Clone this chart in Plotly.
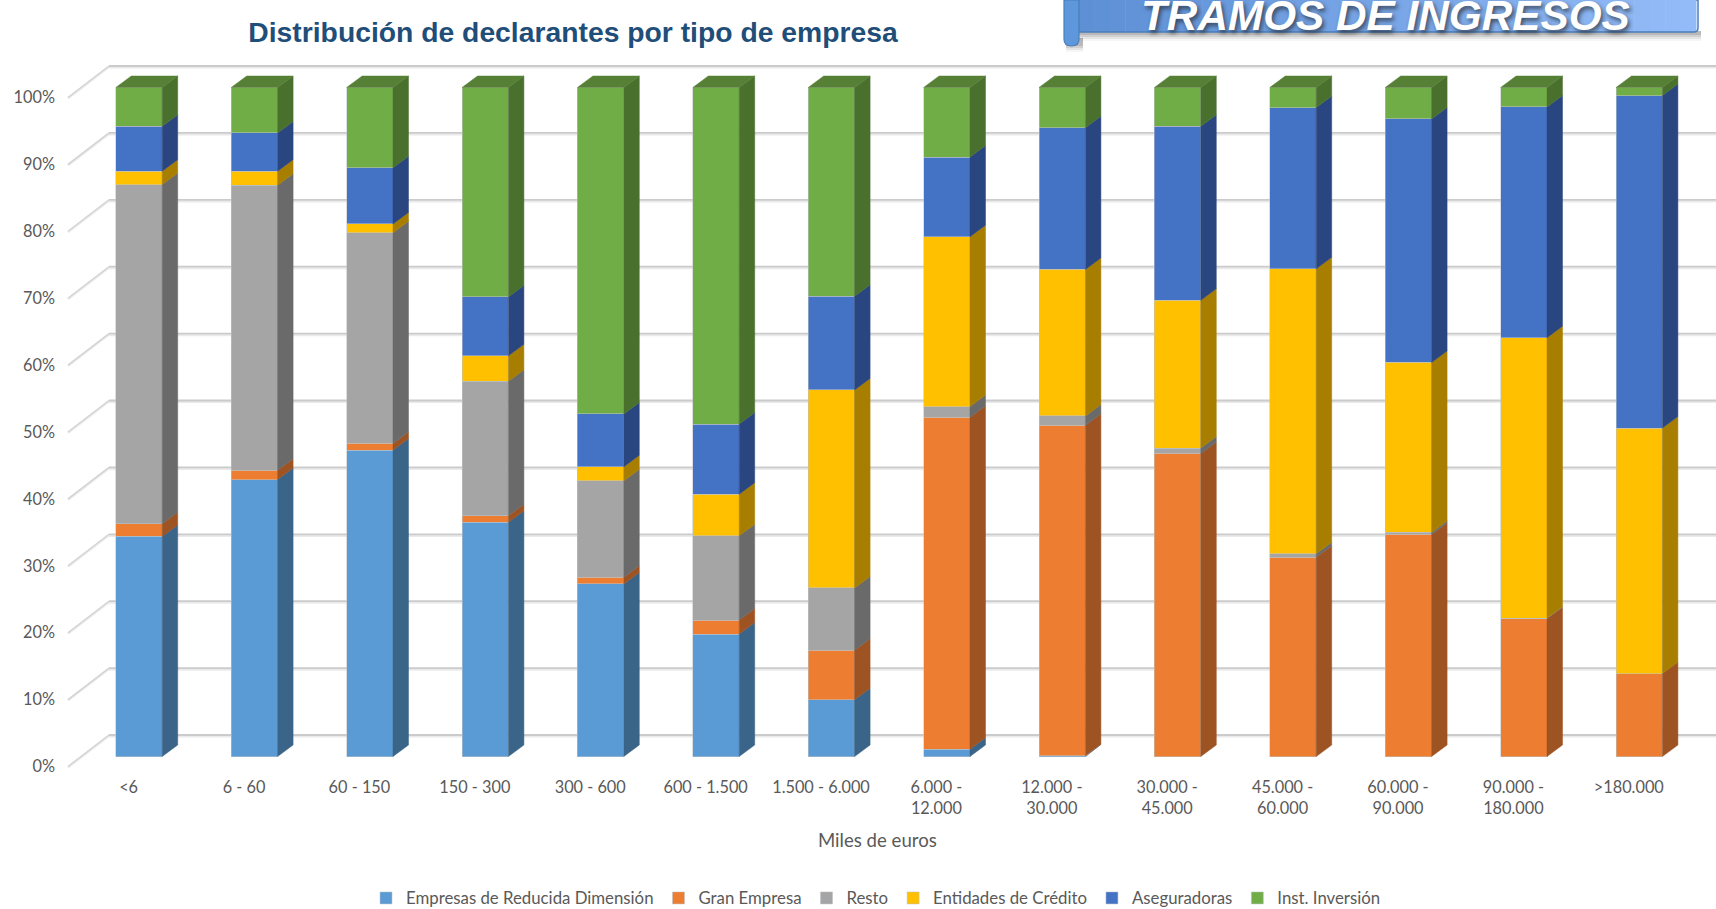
import plotly.graph_objects as go

categories = ["<6", "6 - 60", "60 - 150", "150 - 300", "300 - 600", "600 - 1.500", "1.500 - 6.000",
              "6.000 -<br>12.000", "12.000 -<br>30.000", "30.000 -<br>45.000", "45.000 -<br>60.000",
              "60.000 -<br>90.000", "90.000 -<br>180.000", ">180.000"]
empresas_rd = [32.9, 41.4, 45.8, 35.0, 25.8, 18.3, 8.5, 1.1, 0.1, 0, 0, 0, 0, 0]
gran_empresa = [1.9, 1.4, 1.0, 1.0, 1.0, 2.1, 7.4, 49.6, 49.4, 45.3, 29.8, 33.2, 20.6, 12.4]
resto = [50.7, 42.6, 31.5, 20.1, 14.4, 12.6, 9.3, 1.6, 1.4, 0.8, 0.5, 0.3, 0.1, 0]
entidades = [2.0, 2.1, 1.3, 3.8, 2.1, 6.2, 29.6, 25.4, 21.9, 22.1, 42.6, 25.4, 41.9, 36.7]
aseguradoras = [6.7, 5.7, 8.4, 8.8, 7.9, 10.5, 14.0, 11.9, 21.2, 26.0, 24.1, 36.4, 34.5, 49.7]
inversion = [5.8, 6.8, 12.0, 31.3, 48.8, 50.3, 31.2, 10.4, 6.0, 5.8, 3.0, 4.7, 2.9, 1.2]
y_ticks = [0, 10, 20, 30, 40, 50, 60, 70, 80, 90, 100]

series = [
    ("Empresas de Reducida Dimensión", empresas_rd, "#5B9BD5", "#3A6488"),
    ("Gran Empresa", gran_empresa, "#ED7D31", "#9E5322"),
    ("Resto", resto, "#A5A5A5", "#6A6A6A"),
    ("Entidades de Crédito", entidades, "#FFC000", "#A87E00"),
    ("Aseguradoras", aseguradoras, "#4472C4", "#2A4680"),
    ("Inst. Inversión", inversion, "#70AD47", "#4A702E"),
]

W, H = 1716, 909
L, B = 56, 133
plot_w, plot_h = W - L, H - B
X0, STEP = 139.0, 115.4
Y0, PX = 756.5, 6.69
BAR_W = 46.4 / STEP
DX, DY = 15.5 / STEP, 11.5 / PX
BACK = (Y0 - 735) / PX
FRONT = (Y0 - 766.5) / PX
LEFT_FRONT, LEFT_BACK = (68 - X0) / STEP, (109 - X0) / STEP


def xp(px):
    return (px - L) / plot_w


def yp(py):
    return (plot_h - py) / plot_h


fig = go.Figure()
tops = [0.0] * len(categories)
polys = []
for name, vals, col, side in series:
    fig.add_trace(go.Bar(x=list(range(len(categories))), y=vals, name=name, width=BAR_W,
                         marker=dict(color=col, line=dict(color="rgba(190,195,200,0.6)", width=0.9)),
                         hoverinfo="name+y"))
    sx, sy = [], []
    for i, v in enumerate(vals):
        lo, hi = tops[i], tops[i] + v
        tops[i] = hi
        if v <= 0:
            continue
        xr = i + BAR_W / 2
        sx += [xr, xr + DX, xr + DX, xr, xr, None]
        sy += [lo, lo + DY, hi + DY, hi, lo, None]
    polys.append((sx, sy, side))

for sx, sy, side in polys:
    fig.add_trace(go.Scatter(x=sx, y=sy, mode="lines", fill="toself", fillcolor=side,
                             line=dict(color=side, width=0.5), showlegend=False, hoverinfo="skip"))

tx, ty = [], []
for i, t in enumerate(tops):
    xl, xr = i - BAR_W / 2, i + BAR_W / 2
    tx += [xl, xl + DX, xr + DX, xr, xl, None]
    ty += [t, t + DY, t + DY, t, t, None]
fig.add_trace(go.Scatter(x=tx, y=ty, mode="lines", fill="toself", fillcolor="#568035",
                         line=dict(color="#568035", width=0.5), showlegend=False, hoverinfo="skip"))
fig.add_trace(go.Scatter(x=[0], y=[0], yaxis="y2", mode="none", showlegend=False, hoverinfo="skip"))

shapes = []
x_end = (W - X0) / STEP
soft = 1.6 / PX
for t in y_ticks:
    shapes.append(dict(type="line", xref="x", yref="y", layer="below", x0=LEFT_BACK, x1=x_end,
                       y0=t + BACK - soft, y1=t + BACK - soft, line=dict(color="#EAEAEA", width=2)))
    shapes.append(dict(type="line", xref="x", yref="y", layer="below", x0=LEFT_BACK, x1=x_end,
                       y0=t + BACK, y1=t + BACK, line=dict(color="#CBCBCB", width=1.8)))
    shapes.append(dict(type="line", xref="x", yref="y", layer="below", x0=LEFT_FRONT, x1=LEFT_BACK,
                       y0=t + FRONT - soft / 2, y1=t + BACK - soft / 2, line=dict(color="#EAEAEA", width=2.4)))
    shapes.append(dict(type="line", xref="x", yref="y", layer="below", x0=LEFT_FRONT, x1=LEFT_BACK,
                       y0=t + FRONT, y1=t + BACK, line=dict(color="#D4D4D4", width=1.4)))

# banner at the top right: soft shadow, gradient body, rolled edge
for off, alpha in [(9, 0.05), (7, 0.09), (5, 0.13), (3, 0.17)]:
    shapes.append(dict(type="rect", xref="paper", yref="paper", layer="below", x0=xp(1072), x1=xp(1701),
                       y0=yp(32 + off), y1=yp(31), fillcolor=f"rgba(70,70,70,{alpha})", line_width=0))
    shapes.append(dict(type="rect", xref="paper", yref="paper", layer="below", x0=xp(1066), x1=xp(1083),
                       y0=yp(43 + off), y1=yp(38), fillcolor=f"rgba(70,70,70,{alpha})", line_width=0))
n = 40
c0, c1 = (0x5E, 0x90, 0xD6), (0x93, 0xBB, 0xF7)
a, b = 1079, 1696
for k in range(n):
    f = k / (n - 1)
    c = tuple(round(c0[j] + (c1[j] - c0[j]) * f) for j in range(3))
    shapes.append(dict(type="rect", xref="paper", yref="paper", layer="below",
                       x0=xp(a + (b - a) * k / n), x1=xp(a + (b - a) * (k + 1) / n + 0.5),
                       y0=yp(32), y1=yp(0), fillcolor="rgb(%d,%d,%d)" % c, line_width=0))
shapes.append(dict(type="path", xref="paper", yref="paper", layer="below",
                   path=f"M{xp(1696)},{yp(0)} L{xp(1698)},{yp(0)} L{xp(1698)},{yp(28)} "
                        f"Q{xp(1698)},{yp(32)} {xp(1694)},{yp(32)} L{xp(1079)},{yp(32)}",
                   fillcolor="rgba(0,0,0,0)", line=dict(color="#4A7EBB", width=1.5)))
shapes.append(dict(type="path", xref="paper", yref="paper", layer="below",
                   path=f"M{xp(1064)},{yp(0)} L{xp(1064)},{yp(39)} Q{xp(1064)},{yp(46)} {xp(1071.5)},{yp(46)} "
                        f"Q{xp(1079)},{yp(46)} {xp(1079)},{yp(39)} L{xp(1079)},{yp(0)} Z",
                   fillcolor="#5F97DC", line=dict(color="#4A7EBB", width=1.2)))

annotations = [
    dict(text="<b><i>TRAMOS DE INGRESOS</i></b>", xref="paper", yref="paper", x=xp(1385), y=yp(15),
         xanchor="center", yanchor="middle", showarrow=False,
         font=dict(family="Liberation Sans", size=42.3, color="white",
                   shadow="2px 3px 4px rgba(30,30,30,0.65)")),
    dict(text="Miles de euros", xref="paper", yref="paper", x=xp(877), y=yp(840),
         xanchor="center", yanchor="middle", showarrow=False,
         font=dict(family="Lato", size=18.6, color="#595959")),
]

TICK_FONT = dict(family="Lato", size=16.3, color="#595959")
fig.update_layout(
    width=W, height=H, margin=dict(l=L, r=0, t=0, b=B, autoexpand=False),
    paper_bgcolor="white", plot_bgcolor="white", barmode="stack", showlegend=True,
    title=dict(text="<b>Distribución de declarantes por tipo de empresa</b>",
               font=dict(family="Liberation Sans", size=28.3, color="#1F4E79"),
               xref="container", yref="container", x=573 / W, y=1 - 32 / H, xanchor="center", yanchor="middle"),
    xaxis=dict(range=[(L - X0) / STEP, (W - X0) / STEP], tickmode="array",
               tickvals=[i - 0.09 for i in range(len(categories))], ticktext=categories,
               showgrid=False, zeroline=False, showline=False, ticks="", tickfont=TICK_FONT, tickangle=0,
               automargin=False),
    yaxis=dict(range=[(Y0 - plot_h) / PX, Y0 / PX], showgrid=False, zeroline=False, showticklabels=False,
               showline=False, ticks=""),
    yaxis2=dict(range=[(Y0 - plot_h) / PX - FRONT, Y0 / PX - FRONT], overlaying="y", side="left", tickmode="array",
                tickvals=y_ticks, ticktext=[f"{t}%" for t in y_ticks], tickfont=TICK_FONT, showgrid=False,
                zeroline=False, showline=False, ticks=""),
    legend=dict(orientation="h", x=xp(366), y=yp(898), xanchor="left", yanchor="middle", traceorder="normal",
                font=dict(family="Lato", size=16.8, color="#595959"), itemwidth=30, bgcolor="rgba(0,0,0,0)"),
    shapes=shapes, annotations=annotations,
)

fig.write_html("out.html", config=dict(displayModeBar=False),
               post_script="document.body.style.margin='0';document.body.style.overflow='hidden';")
